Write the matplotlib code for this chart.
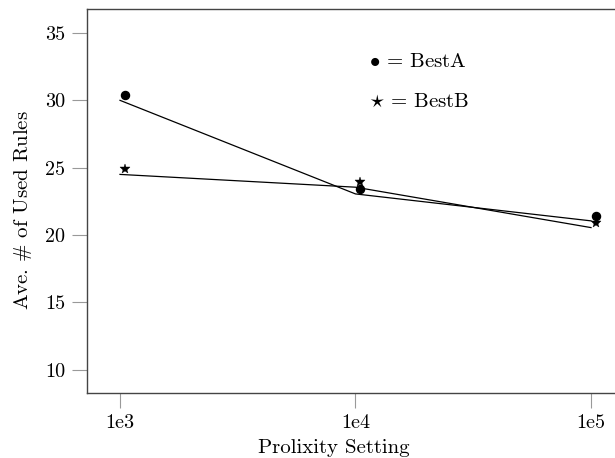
import matplotlib
matplotlib.use("Agg")
import matplotlib.pyplot as plt

plt.rcParams['font.family'] = 'cmr10'
plt.rcParams['mathtext.fontset'] = 'cm'
plt.rcParams['axes.formatter.use_mathtext'] = True

# Data
settings = [1e3, 1e4, 1e5]
tick_labels = ["1e3", "1e4", "1e5"]
marker_x = [1.05e3, 1.05e4, 1.05e5]
bestA_points = [30.4, 23.45, 21.4]
bestB_points = [24.9, 23.9, 20.9]
bestA_fit = [30.0, 23.05, 21.05]
bestB_fit = [24.5, 23.55, 20.55]
yticks = [10, 15, 20, 25, 30, 35]

W, H = 615, 458
fig = plt.figure(figsize=(W/100, H/100), dpi=100)
ax = fig.add_axes([87/W, (H - 392.7)/H, 539/W, (392.7 - 9.3)/H])

ax.plot(settings, bestA_fit, color='black', lw=0.9)
ax.plot(settings, bestB_fit, color='black', lw=0.9)
ax.plot(marker_x, bestA_points, 'o', color='black', ms=5.8, ls='none')
ax.plot(marker_x, bestB_points, '*', color='black', ms=7, ls='none',
        markeredgewidth=0.3)

ax.set_xscale('log')
ax.set_xlim(10**(3 - 33/235.5), 10**(5 + 35/235.5))
ax.set_ylim(8.29, 36.76)
ax.set_xticks(settings)
ax.set_xticklabels(tick_labels)
ax.minorticks_off()
ax.set_yticks(yticks)
ax.set_yticklabels([str(v) for v in yticks])

ax.tick_params(direction='out', length=10.5, width=0.8, color='#999999',
               labelsize=14.5, pad=5)
for s in ax.spines.values():
    s.set_color('#444444')
    s.set_linewidth(1.0)

fs = 15
fig.text(334/W, (H - 448)/H, 'Prolixity Setting', fontsize=fs,
         ha='center', va='center')
fig.text(23/W, (H - 210)/H, r'Ave. $\#$ of Used Rules', fontsize=fs,
         ha='center', va='center', rotation=90)

fig.text(369/W, (H - 62)/H, r'$\bullet$ = BestA', fontsize=fs,
         va='center', ha='left')
fig.text(369/W, (H - 102)/H, r'$\star$ = BestB', fontsize=fs,
         va='center', ha='left')

fig.savefig('out.png', dpi=100)
